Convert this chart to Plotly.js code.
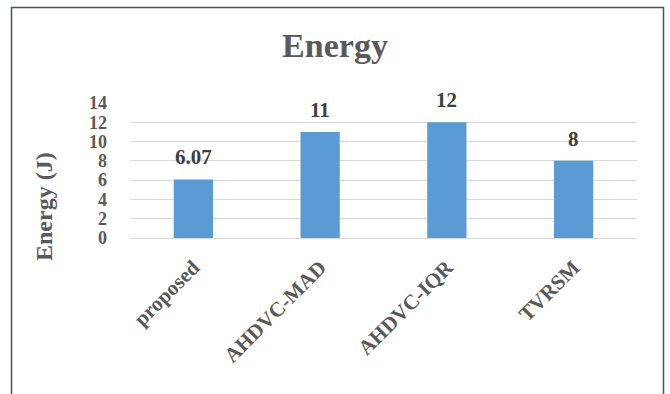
<!DOCTYPE html>
<html>
<head>
<meta charset="utf-8">
<script src="https://cdn.plot.ly/plotly-3.0.1.min.js"></script>
<style>html,body{margin:0;padding:0;background:#fff;}#chart{width:670px;height:394px;}</style>
</head>
<body>
<div id="chart"></div>
<script>
const categories = ["proposed", "AHDVC-MAD", "AHDVC-IQR", "TVRSM"];
const energy = [6.07, 11, 12, 8];
const labels = ["6.07", "11", "12", "8"];

const serif = "Liberation Serif, Times New Roman, serif";
const grey = "#595959";

const W = 670, H = 394;
const L = 130, R = 33, T = 103, B = 156;
const pw = W - L - R, ph = H - T - B;
function px2x(px){ return (px - L) / pw; }
function py2y(py){ return (H - B - py) / ph; }

const annotations = categories.map((c, i) => ({
  x: c, y: energy[i], xref: 'x', yref: 'y',
  text: labels[i], showarrow: false,
  yanchor: 'bottom', yshift: 8,
  font: {family: serif, size: 21, color: '#404040', weight: 'bold'}
}));
annotations.push({
  xref: 'paper', yref: 'paper', x: px2x(44), y: py2y(207),
  text: 'Energy (J)', textangle: -90, showarrow: false,
  xanchor: 'center', yanchor: 'middle',
  font: {family: serif, size: 24, color: grey, weight: 'bold'}
});

Plotly.newPlot('chart', [{
  type: 'bar', x: categories, y: energy,
  marker: {color: '#5B9BD5'},
  hoverinfo: 'none'
}], {
  width: W, height: H,
  margin: {l: L, r: R, t: T, b: B, pad: 0},
  paper_bgcolor: '#ffffff', plot_bgcolor: '#ffffff',
  bargap: 0.69,
  showlegend: false,
  title: {text: 'Energy', x: 0.5, xanchor: 'center', y: 1 - 45/H, yanchor: 'middle', yref: 'container',
          font: {family: serif, size: 34, color: grey, weight: 'bold'}},
  xaxis: {
    type: 'category', tickangle: -45, showgrid: false, showline: false, zeroline: false,
    ticks: '', ticklabelstandoff: 12,
    tickfont: {family: serif, size: 21, color: grey, weight: 'bold'}
  },
  yaxis: {
    range: [0, 14], dtick: 2, tick0: 0, showgrid: true, gridcolor: '#D9D9D9', gridwidth: 1,
    zeroline: true, zerolinecolor: '#D9D9D9', zerolinewidth: 1, showline: false,
    ticks: '', ticklabelstandoff: 22,
    tickfont: {family: serif, size: 18, color: grey, weight: 'bold'}
  },
  annotations: annotations,
  shapes: [{
    type: 'rect', xref: 'paper', yref: 'paper',
    x0: px2x(11.5), x1: px2x(663.5), y0: py2y(420), y1: py2y(7.5),
    line: {color: '#44546A', width: 1.5}, fillcolor: 'rgba(0,0,0,0)', layer: 'above'
  }]
}, {staticPlot: true});
</script>
</body>
</html>
